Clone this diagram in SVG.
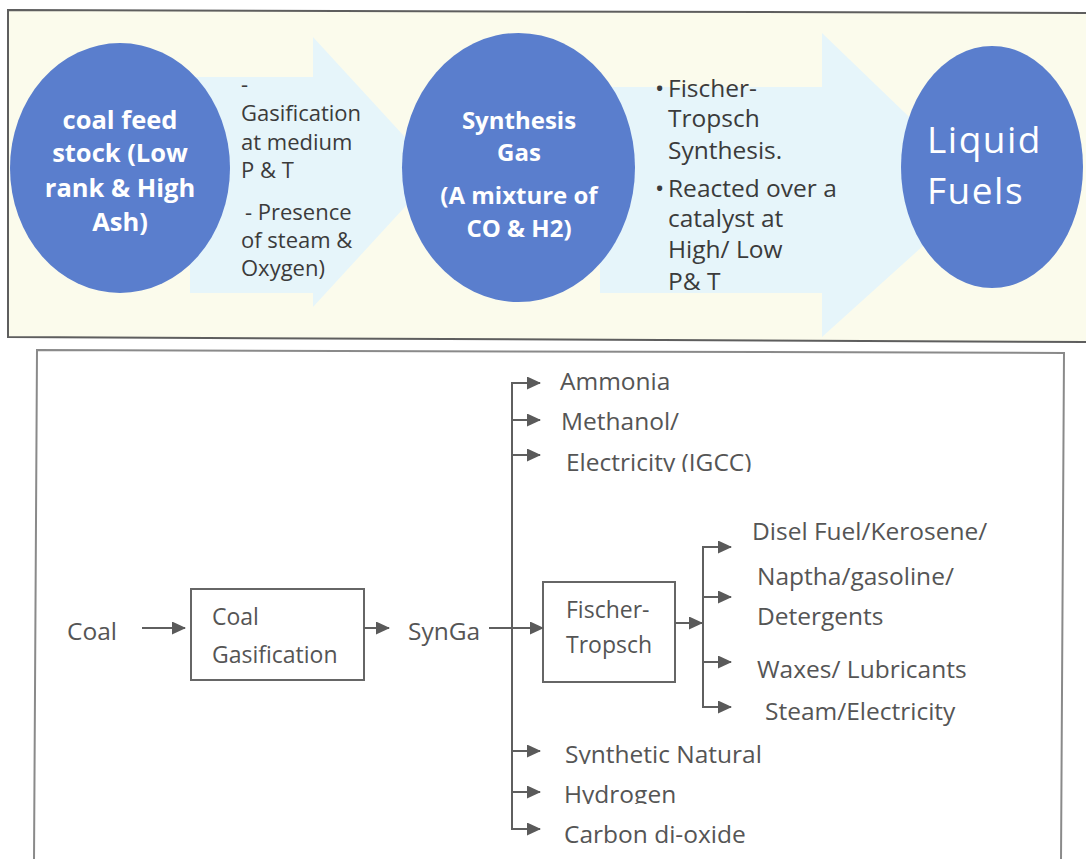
<svg xmlns="http://www.w3.org/2000/svg" width="1086" height="859" viewBox="0 0 1086 859">
  <defs>
    <style>
      .panel-top { fill: #fbfbec; stroke: #5e5e5e; stroke-width: 2; }
      .panel-bot { fill: #ffffff; stroke: #8a8a8a; stroke-width: 2; }
      .band { fill: #e6f5fa; }
      .disc { fill: #5a7ecd; }
      .disc-t { font-family: "Open Sans", "Liberation Sans", sans-serif; font-weight: 700; font-size: 24px; fill: #ffffff; text-anchor: middle; }
      .disc-t.lg { font-size: 25.5px; }
      .big-t { font-family: "Open Sans", "Liberation Sans", sans-serif; font-size: 37px; letter-spacing: 1.5px; fill: #ffffff; }
      .note { font-family: "Open Sans", "Liberation Sans", sans-serif; font-size: 22px; fill: #3b3b3b; }
      .note.lg { font-size: 24.5px; }
      .lbl { font-family: "Open Sans", "Liberation Sans", sans-serif; font-size: 24.5px; fill: #555555; }
      .lbl.in { font-size: 23px; }
      .box { fill: #ffffff; stroke: #666666; stroke-width: 2; }
      .wire { fill: none; stroke: #5f5f5f; stroke-width: 2; }
    </style>
    <marker id="head" viewBox="0 0 14 13" refX="13" refY="6.5" markerWidth="14" markerHeight="13" markerUnits="userSpaceOnUse" orient="auto">
      <path d="M0,0 L14,6.5 L0,13 Z" fill="#5a5a5a"/>
    </marker>
    <clipPath id="cut-elec"><rect x="560" y="440" width="240" height="32"/></clipPath>
    <clipPath id="cut-syn"><rect x="560" y="735" width="240" height="29"/></clipPath>
    <clipPath id="cut-hyd"><rect x="560" y="775" width="240" height="29"/></clipPath>
  </defs>

  <!-- upper process strip -->
  <g id="strip">
    <polygon class="panel-top" points="8,10 1090,13 1090,342 8,337"/>
    <polygon class="band" points="190,77 313,77 313,37 437,172 313,307 313,293 190,293"/>
    <polygon class="band" points="600,87 822,87 822,33 985,190 822,337 822,293 600,293"/>
  </g>

  <g id="feedstock">
    <ellipse class="disc" cx="120" cy="168" rx="110" ry="125"/>
    <text class="disc-t lg" x="120" y="129">coal feed</text>
    <text class="disc-t lg" x="120" y="162">stock (Low</text>
    <text class="disc-t lg" x="120" y="197">rank &amp; High</text>
    <text class="disc-t lg" x="120" y="231">Ash)</text>
  </g>

  <g id="gasification-note">
    <text class="note" x="241" y="92">-</text>
    <text class="note" x="241" y="121">Gasification</text>
    <text class="note" x="241" y="150">at medium</text>
    <text class="note" x="241" y="178">P &amp; T</text>
    <text class="note" x="245" y="220">- Presence</text>
    <text class="note" x="241" y="248">of steam &amp;</text>
    <text class="note" x="241" y="276">Oxygen)</text>
  </g>

  <g id="syngas">
    <ellipse class="disc" cx="518.5" cy="167.5" rx="116.5" ry="134.5"/>
    <text class="disc-t" x="519" y="129">Synthesis</text>
    <text class="disc-t" x="519" y="161">Gas</text>
    <text class="disc-t" x="519" y="204">(A mixture of</text>
    <text class="disc-t" x="519" y="237">CO &amp; H2)</text>
  </g>

  <g id="ft-note">
    <text class="note lg" x="655" y="97">•</text>
    <text class="note lg" x="668" y="97">Fischer-</text>
    <text class="note lg" x="668" y="127">Tropsch</text>
    <text class="note lg" x="668" y="159">Synthesis.</text>
    <text class="note lg" x="655" y="197">•</text>
    <text class="note lg" x="668" y="197">Reacted over a</text>
    <text class="note lg" x="668" y="227">catalyst at</text>
    <text class="note lg" x="668" y="258">High/ Low</text>
    <text class="note lg" x="668" y="290">P&amp; T</text>
  </g>

  <g id="liquid-fuels">
    <ellipse class="disc" cx="992" cy="167" rx="91" ry="121"/>
    <text class="big-t" x="927" y="153">Liquid</text>
    <text class="big-t" x="927" y="204">Fuels</text>
  </g>

  <!-- lower flow chart -->
  <polyline class="panel-bot" points="34,862 37,350 1064,353 1061,862"/>

  <g id="coal"><text class="lbl" x="67" y="640">Coal</text></g>

  <g id="coal-gasification">
    <rect class="box" x="191" y="589" width="173" height="91"/>
    <text class="lbl in" x="212" y="625">Coal</text>
    <text class="lbl in" x="212" y="663">Gasification</text>
  </g>

  <g id="synga"><text class="lbl" x="408" y="640">SynGa</text></g>

  <g id="fischer-tropsch">
    <rect class="box" x="543" y="582" width="132" height="100"/>
    <text class="lbl in" x="566" y="618">Fischer-</text>
    <text class="lbl in" x="566" y="653">Tropsch</text>
  </g>

  <g id="products">
    <text class="lbl" x="560" y="390">Ammonia</text>
    <text class="lbl" x="561" y="430">Methanol/</text>
    <text class="lbl" x="566" y="471" clip-path="url(#cut-elec)">Electricity (IGCC)</text>
    <text class="lbl" x="752" y="540">Disel Fuel/Kerosene/</text>
    <text class="lbl" x="757" y="585">Naptha/gasoline/</text>
    <text class="lbl" x="757" y="625">Detergents</text>
    <text class="lbl" x="757" y="678">Waxes/ Lubricants</text>
    <text class="lbl" x="765" y="720">Steam/Electricity</text>
    <text class="lbl" x="565" y="763" clip-path="url(#cut-syn)">Synthetic Natural</text>
    <text class="lbl" x="564" y="803" clip-path="url(#cut-hyd)">Hydrogen</text>
    <text class="lbl" x="564" y="843">Carbon di-oxide</text>
  </g>

  <g id="connectors">
    <path class="wire" d="M142,628 H185" marker-end="url(#head)"/>
    <path class="wire" d="M364,628 H389" marker-end="url(#head)"/>
    <path class="wire" d="M489,628 H543" marker-end="url(#head)"/>
    <!-- syngas trunk -->
    <path class="wire" d="M512,383 V829"/>
    <path class="wire" d="M511,383 H540" marker-end="url(#head)"/>
    <path class="wire" d="M512,420 H540" marker-end="url(#head)"/>
    <path class="wire" d="M512,455 H540" marker-end="url(#head)"/>
    <path class="wire" d="M512,751 H540" marker-end="url(#head)"/>
    <path class="wire" d="M512,792 H540" marker-end="url(#head)"/>
    <path class="wire" d="M511,829 H540" marker-end="url(#head)"/>
    <!-- Fischer-Tropsch product trunk -->
    <path class="wire" d="M675,623 H702" marker-end="url(#head)"/>
    <path class="wire" d="M703,547 V708"/>
    <path class="wire" d="M702,547 H731" marker-end="url(#head)"/>
    <path class="wire" d="M703,597 H731" marker-end="url(#head)"/>
    <path class="wire" d="M703,662 H731" marker-end="url(#head)"/>
    <path class="wire" d="M702,707 H731" marker-end="url(#head)"/>
  </g>
</svg>
